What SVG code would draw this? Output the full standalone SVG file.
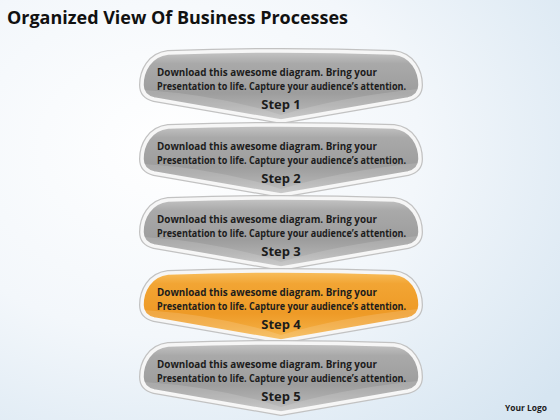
<svg xmlns="http://www.w3.org/2000/svg" width="560" height="420" viewBox="0 0 560 420">
<defs>
<radialGradient id="bg" cx="0.3" cy="0.35" r="0.9">
<stop offset="0" stop-color="#ffffff"/>
<stop offset="0.5" stop-color="#f3f7fb"/>
<stop offset="1" stop-color="#d6e5f1"/>
</radialGradient>
<linearGradient id="gray" x1="0" y1="0" x2="0" y2="1">
<stop offset="0" stop-color="#c6c6c6"/>
<stop offset="0.18" stop-color="#a9a9a9"/>
<stop offset="0.6" stop-color="#9d9d9d"/>
<stop offset="0.8" stop-color="#aeaeae"/>
<stop offset="1" stop-color="#c4c4c4"/>
</linearGradient>
<linearGradient id="orange" x1="0" y1="0" x2="0" y2="1">
<stop offset="0" stop-color="#f8c060"/>
<stop offset="0.18" stop-color="#f2a534"/>
<stop offset="0.6" stop-color="#ee9a26"/>
<stop offset="0.8" stop-color="#f2a83a"/>
<stop offset="1" stop-color="#f6bb55"/>
</linearGradient>
<path id="shape" d="M168,0 Q281,-4 394,0 C412,2 420,18 420,32 C420,40 416,44 408,46 L281,68 L154,46 C146,44 142,40 142,32 C142,18 150,2 168,0 Z"/>
<path id="gloss" d="M144,37 Q220,42 281,62 Q340,44 418,36 C417,41 413,44 408,46 L281,68 L154,46 C149,44 146,41 144,37 Z"/>
</defs>
<style>
.rim{fill:none;stroke:#c2c2c2;stroke-width:6;stroke-linejoin:round}
.rim2{stroke:#f6f6f6;stroke-width:3.5;stroke-linejoin:round}
.g{fill:url(#gray)}
.o{fill:url(#orange)}
.gl{fill:#ffffff;fill-opacity:0.14}
.t{font-family:"Open Sans","Liberation Sans",sans-serif;font-weight:bold;font-size:10px;fill:#1c1c1c}
.s{font-family:"Open Sans","Liberation Sans",sans-serif;font-weight:bold;font-size:13px;fill:#1c1c1c;text-anchor:middle}
.title{font-family:"Open Sans","Liberation Sans",sans-serif;font-weight:bold;font-size:18px;fill:#111}
</style>
<rect width="560" height="420" fill="url(#bg)"/>
<text class="title" x="7" y="24" textLength="341" lengthAdjust="spacingAndGlyphs">Organized View Of Business Processes</text>
<g id="step1" transform="translate(0,53)">
<use href="#shape" class="rim"/><use href="#shape" class="g rim2"/><use href="#gloss" class="gl"/>
<text class="t" x="157" y="22.5" textLength="220" lengthAdjust="spacingAndGlyphs">Download this awesome diagram. Bring your</text>
<text class="t" x="157" y="36.5" textLength="249" lengthAdjust="spacingAndGlyphs">Presentation to life. Capture your audience’s attention.</text>
<text class="s" x="281" y="56">Step 1</text>
</g>
<g id="step2" transform="translate(0,127)">
<use href="#shape" class="rim"/><use href="#shape" class="g rim2"/><use href="#gloss" class="gl"/>
<text class="t" x="157" y="22.5" textLength="220" lengthAdjust="spacingAndGlyphs">Download this awesome diagram. Bring your</text>
<text class="t" x="157" y="36.5" textLength="249" lengthAdjust="spacingAndGlyphs">Presentation to life. Capture your audience’s attention.</text>
<text class="s" x="281" y="56">Step 2</text>
</g>
<g id="step3" transform="translate(0,200)">
<use href="#shape" class="rim"/><use href="#shape" class="g rim2"/><use href="#gloss" class="gl"/>
<text class="t" x="157" y="22.5" textLength="220" lengthAdjust="spacingAndGlyphs">Download this awesome diagram. Bring your</text>
<text class="t" x="157" y="36.5" textLength="249" lengthAdjust="spacingAndGlyphs">Presentation to life. Capture your audience’s attention.</text>
<text class="s" x="281" y="56">Step 3</text>
</g>
<g id="step4" transform="translate(0,273)">
<use href="#shape" class="rim"/><use href="#shape" class="o rim2"/><use href="#gloss" class="gl"/>
<text class="t" x="157" y="22.5" textLength="220" lengthAdjust="spacingAndGlyphs">Download this awesome diagram. Bring your</text>
<text class="t" x="157" y="36.5" textLength="249" lengthAdjust="spacingAndGlyphs">Presentation to life. Capture your audience’s attention.</text>
<text class="s" x="281" y="56">Step 4</text>
</g>
<g id="step5" transform="translate(0,345)">
<use href="#shape" class="rim"/><use href="#shape" class="g rim2"/><use href="#gloss" class="gl"/>
<text class="t" x="157" y="22.5" textLength="220" lengthAdjust="spacingAndGlyphs">Download this awesome diagram. Bring your</text>
<text class="t" x="157" y="36.5" textLength="249" lengthAdjust="spacingAndGlyphs">Presentation to life. Capture your audience’s attention.</text>
<text class="s" x="281" y="56">Step 5</text>
</g>
<text x="505" y="411" style="font-family:'Open Sans','Liberation Sans',sans-serif;font-weight:bold;font-size:9px;fill:#1c1c1c" textLength="42" lengthAdjust="spacingAndGlyphs">Your Logo</text>
</svg>
